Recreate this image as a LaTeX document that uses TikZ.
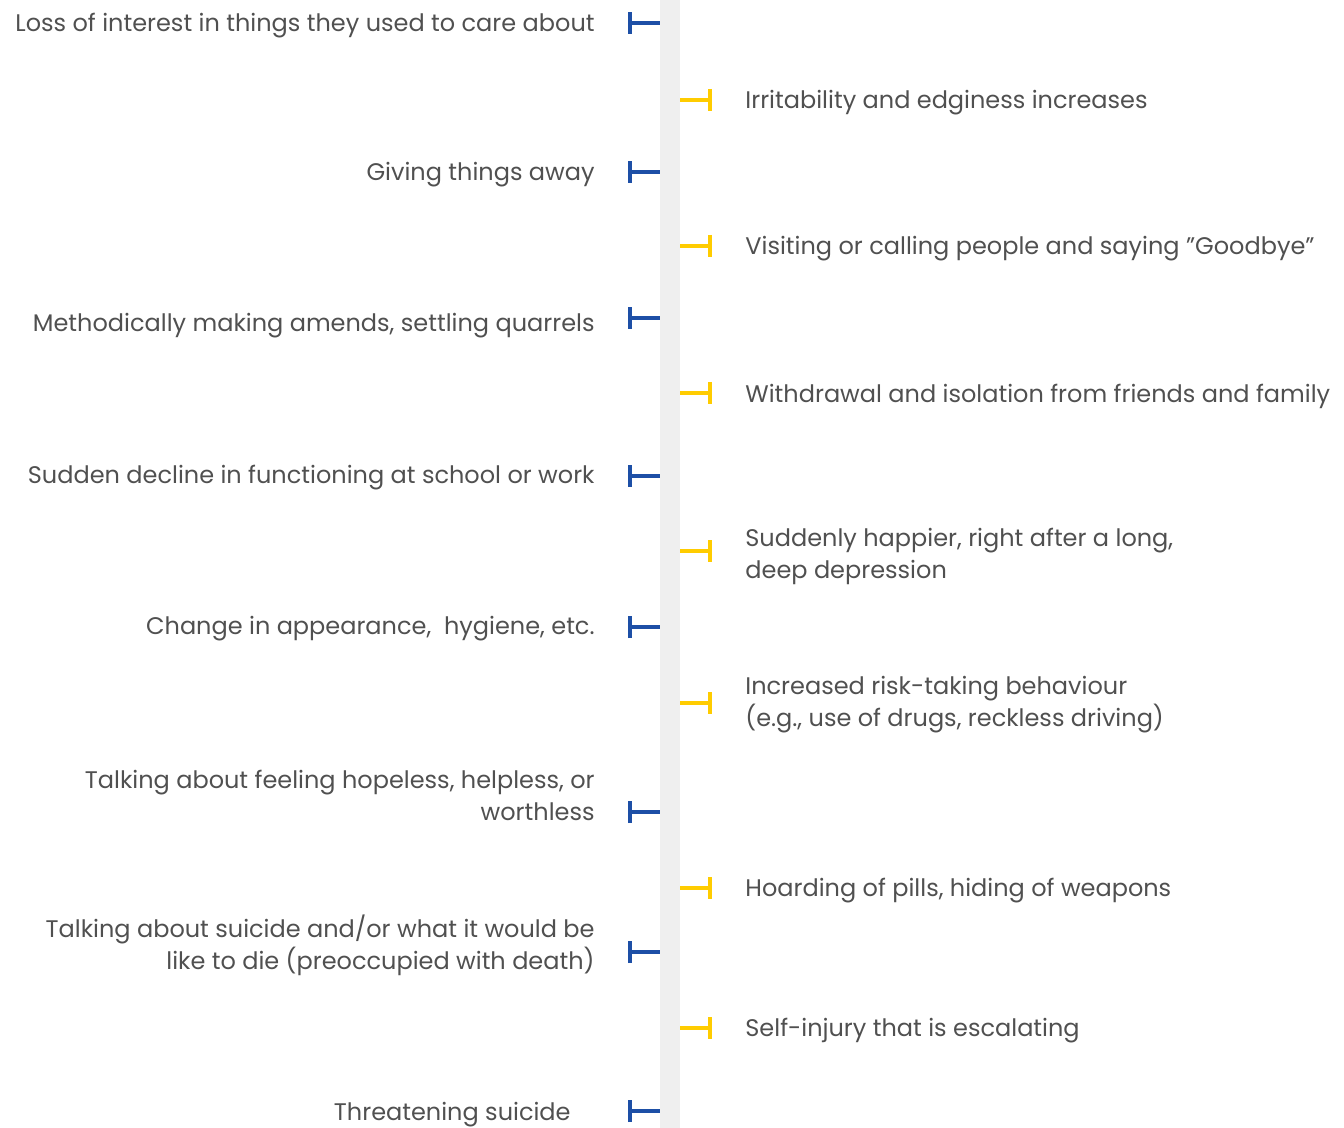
\documentclass[tikz,border=0pt]{standalone}
\usepackage{fontspec}
\setmainfont{Poppins}
\usetikzlibrary{arrows.meta}

\definecolor{signblue}{HTML}{1D4FA6}
\definecolor{signyellow}{HTML}{FFCC00}
\definecolor{signtext}{HTML}{505050}
\definecolor{spinegray}{HTML}{EFEFEF}

\begin{document}
\begin{tikzpicture}[
    x=0.5pt, y=-0.5pt,
    sign/.style={font=\fontsize{12}{16}\selectfont, text=signtext, inner sep=0pt, yshift=-1.5pt},
    leftsign/.style={sign, anchor=east, align=right},
    rightsign/.style={sign, anchor=west, align=left},
    tick/.style={line width=2pt, {Bar[width=11pt, line width=2pt]}-},
    lefttick/.style={tick, signblue},
    righttick/.style={tick, signyellow}
]
    \useasboundingbox (0,0) rectangle (1344,1128);

    % Spina centrale
    \fill[spinegray] (660,0) rectangle (680,1128);

    % Segnali a sinistra
    \node[leftsign] (loss) at (595,23) {Loss of interest in things they used to care about};
    \node[leftsign] (giving) at (595,172) {Giving things away};
    \node[leftsign] (amends) at (595,323) {Methodically making amends, settling quarrels};
    \node[leftsign] (decline) at (595,475) {Sudden decline in functioning at school or work};
    \node[leftsign] (appearance) at (595,626) {Change in appearance,\ \ hygiene, etc.};
    \node[leftsign] (hopeless) at (595,792) {Talking about feeling hopeless, helpless, or\\worthless};
    \node[leftsign] (death) at (595,942) {Talking about suicide and/or what it would be\\like to die (preoccupied with death)};
    \node[leftsign] (threat) at (571,1112) {Threatening suicide};

    % Segnali a destra
    \node[rightsign] (irritability) at (745,100) {Irritability and edginess increases};
    \node[rightsign] (goodbye) at (745,246) {Visiting or calling people and saying ”Goodbye”};
    \node[rightsign] (withdrawal) at (745,393) {Withdrawal and isolation from friends and family};
    \node[rightsign] (happier) at (745,553) {Suddenly happier, right after a long,\\deep depression};
    \node[rightsign] (risk) at (745,702) {Increased risk-taking behaviour\\(e.g., use of drugs, reckless driving)};
    \node[rightsign] (hoarding) at (745,888) {Hoarding of pills, hiding of weapons};
    \node[rightsign] (selfinjury) at (745,1028) {Self-injury that is escalating};

    % Tacche sulla spina
    \draw[lefttick] (628,23) coordinate (t-loss) -- (660,23);
    \draw[lefttick] (628,172) coordinate (t-giving) -- (660,172);
    \draw[lefttick] (628,318) coordinate (t-amends) -- (660,318);
    \draw[lefttick] (628,476) coordinate (t-decline) -- (660,476);
    \draw[lefttick] (628,627) coordinate (t-appearance) -- (660,627);
    \draw[lefttick] (628,812) coordinate (t-hopeless) -- (660,812);
    \draw[lefttick] (628,952) coordinate (t-death) -- (660,952);
    \draw[lefttick] (628,1111) coordinate (t-threat) -- (660,1111);

    \draw[righttick] (712,100) coordinate (t-irritability) -- (680,100);
    \draw[righttick] (712,246) coordinate (t-goodbye) -- (680,246);
    \draw[righttick] (712,393) coordinate (t-withdrawal) -- (680,393);
    \draw[righttick] (712,551) coordinate (t-happier) -- (680,551);
    \draw[righttick] (712,703) coordinate (t-risk) -- (680,703);
    \draw[righttick] (712,888) coordinate (t-hoarding) -- (680,888);
    \draw[righttick] (712,1028) coordinate (t-selfinjury) -- (680,1028);

\end{tikzpicture}
\end{document}
